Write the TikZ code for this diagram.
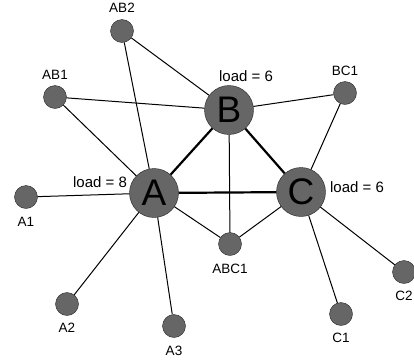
\documentclass[tikz,border=0pt]{standalone}
\usepackage{fontspec}
\setmainfont{Liberation Sans}
\usetikzlibrary{positioning}
\definecolor{knoten}{HTML}{666666}

\begin{document}
\begin{tikzpicture}[x=1pt,y=-1pt,
  gross/.style={circle,draw=black!85,fill=knoten,minimum size=49pt,inner sep=0pt,
    font=\fontsize{37}{37}\selectfont},
  klein/.style={circle,draw=black!85,fill=knoten,minimum size=23pt,inner sep=0pt},
  marke/.style={inner sep=0pt,font=\fontsize{13.5}{14}\selectfont},
  last/.style={inner sep=0pt,font=\fontsize{15}{16}\selectfont},
  dick/.style={line width=2.2pt},
  duenn/.style={line width=1pt}]
  \useasboundingbox (0,0) rectangle (414,360);
  % Hauptknoten
  \node[gross] (A) at (154,193) {A};
  \node[gross] (B) at (229,110) {B};
  \node[gross] (C) at (301,192) {C};
  % Nebenknoten
  \node[klein] (AB2) at (122,31) {};
  \node[klein] (AB1) at (55,97) {};
  \node[klein] (BC1) at (345,93) {};
  \node[klein] (A1) at (26,197) {};
  \node[klein] (A2) at (67,304) {};
  \node[klein] (A3) at (174,326) {};
  \node[klein] (ABC1) at (230,244) {};
  \node[klein] (C1) at (341,314) {};
  \node[klein] (C2) at (404,272) {};
  % Beschriftungen
  \node[marke] (tAB2) at (122,8) {AB2};
  \node[marke] (tAB1) at (55,75) {AB1};
  \node[marke] (tBC1) at (345,71) {BC1};
  \node[marke] (tA1) at (26,222) {A1};
  \node[marke] (tA2) at (67,328) {A2};
  \node[marke] (tA3) at (174,351) {A3};
  \node[marke] (tABC1) at (230,269) {ABC1};
  \node[marke] (tC1) at (341,338) {C1};
  \node[marke] (tC2) at (404,296) {C2};
  % Last
  \node[last] (lB) at (246,76) {load = 6};
  \node[last] (lA) at (100,182) {load = 8};
  \node[last] (lC) at (357,187) {load = 6};
  % Kanten
  \draw[dick] (A) -- (B);
  \draw[dick] (B) -- (C);
  \draw[dick] (A) -- (C);
  \foreach \u/\v in {AB2/A,AB2/B,AB1/A,AB1/B,BC1/B,BC1/C,A1/A,A2/A,A3/A,
    ABC1/A,ABC1/B,ABC1/C,C1/C,C2/C}
    \draw[duenn] (\u) -- (\v);
\end{tikzpicture}
\end{document}
